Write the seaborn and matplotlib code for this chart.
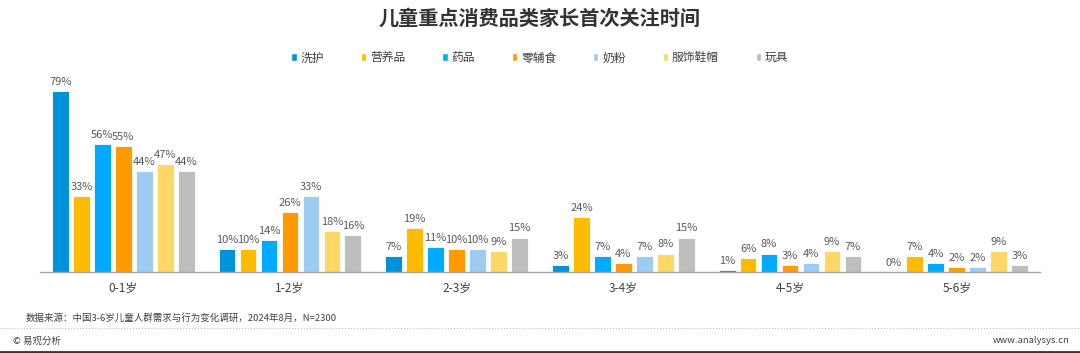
import pandas as pd
import seaborn as sns
import matplotlib.pyplot as plt
from matplotlib.patches import Patch

sns.set_style('white')
plt.rcParams['font.family'] = ['Noto Sans CJK SC', 'DejaVu Sans']

# 数据
ages = ['0-1岁', '1-2岁', '2-3岁', '3-4岁', '4-5岁', '5-6岁']
categories = ['洗护', '营养品', '药品', '零辅食', '奶粉', '服饰鞋帽', '玩具']
xihu = [79, 10, 7, 3, 1, 0]
yingyang = [33, 10, 19, 24, 6, 7]
yaopin = [56, 14, 11, 7, 8, 4]
lingfushi = [55, 26, 10, 4, 3, 2]
naifen = [44, 33, 10, 7, 4, 2]
fushi = [47, 18, 9, 8, 9, 9]
wanju = [44, 16, 15, 15, 7, 3]
colors = ['#0093D9', '#FFBB00', '#00AAFF', '#FF9A00', '#9DCBF2', '#FFD766', '#BEBEBE']

series = [xihu, yingyang, yaopin, lingfushi, naifen, fushi, wanju]
rows = []
for cat, vals in zip(categories, series):
    for age, v in zip(ages, vals):
        rows.append({'age': age, 'cat': cat, 'val': v})
df = pd.DataFrame(rows)

fig = plt.figure(figsize=(10.8, 3.53), dpi=100)
ax = fig.add_axes([0.037, 0.2295, 0.926, 0.545])

sns.barplot(data=df, x='age', y='val', hue='cat', order=ages, hue_order=categories,
            palette=colors, saturation=1, width=0.88, gap=0.2, legend=False, ax=ax,
            edgecolor='white', linewidth=0.6)

for c in ax.containers:
    ax.bar_label(c, fmt='%.0f%%', padding=3, fontsize=8, color='#595959')

ax.set_ylim(0, 84)
ax.set_xlim(-0.5, 5.5)
ax.set_xlabel('')
ax.set_ylabel('')
ax.set_yticks([])
ax.tick_params(axis='x', length=0, labelsize=8.5, labelcolor='#404040', pad=7)
for s in ['top', 'right', 'left']:
    ax.spines[s].set_visible(False)
ax.spines['bottom'].set_color('#A6A6A6')
ax.spines['bottom'].set_linewidth(1)

fig.text(0.5, 0.948, '儿童重点消费品类家长首次关注时间', ha='center', va='center',
         fontsize=14.5, fontweight='bold', color='#333333')

handles = [Patch(facecolor=c, label=l) for c, l in zip(colors, categories)]
fig.legend(handles=handles, loc='center', bbox_to_anchor=(0.5, 0.836), ncol=7,
           frameon=False, fontsize=8.5, handlelength=0.45, handleheight=0.7,
           handletextpad=0.35, columnspacing=3.1, labelcolor='#404040')

fig.text(0.024, 0.099, '数据来源：中国3-6岁儿童人群需求与行为变化调研，2024年8月，N=2300',
         ha='left', va='center', fontsize=6.8, color='#404040', fontweight='medium')
fig.add_artist(plt.Line2D([0, 1], [0.07, 0.07], color='#BFBFBF', linestyle=':', linewidth=0.8))
fig.text(0.012, 0.034, '© 易观分析', ha='left', va='center', fontsize=6.8, color='#404040',
         fontweight='medium')
fig.text(0.99, 0.034, 'www.analysys.cn', ha='right', va='center', fontsize=6.8, color='#404040',
         fontweight='medium')
fig.add_artist(plt.Line2D([0, 1], [0.004, 0.004], color='#333333', linewidth=2))

fig.savefig('out.png', dpi=100)
